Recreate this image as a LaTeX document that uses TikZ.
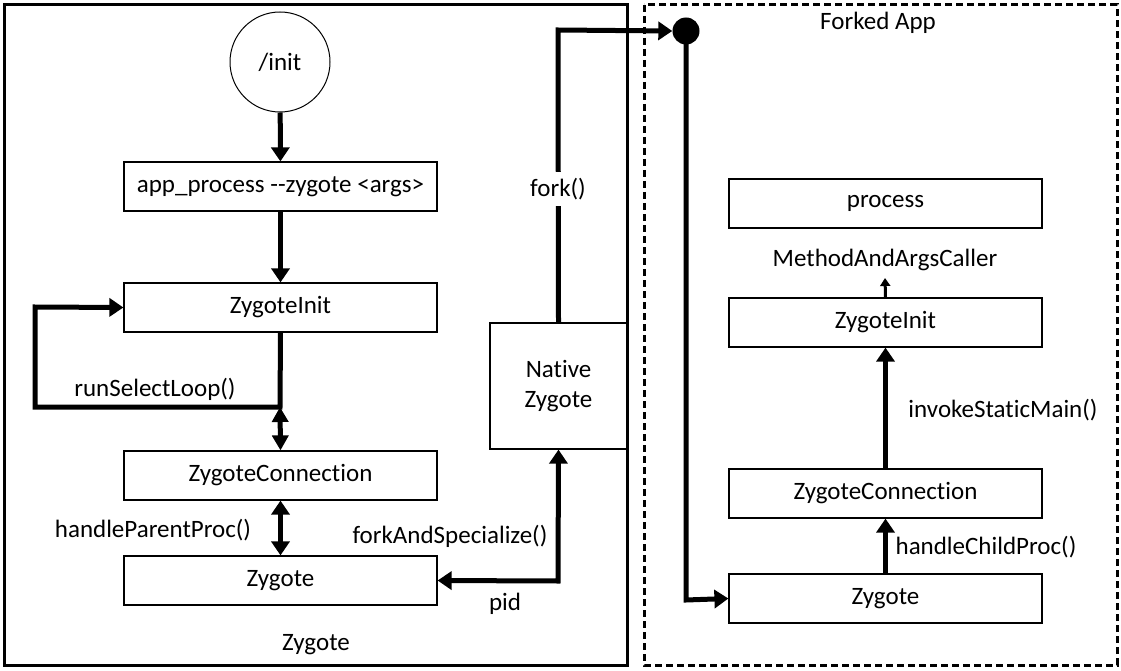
\documentclass[tikz,border=0pt]{standalone}
\usepackage{fontspec}
\setmainfont{Carlito}[Ligatures={NoCommon}]
\usetikzlibrary{arrows.meta,calc}
\begin{document}
\begin{tikzpicture}[x=1pt,y=-1pt,
  font=\fontsize{25}{30}\selectfont,
  box/.style={draw,line width=1.2pt,minimum width=313pt,minimum height=49pt,inner sep=0pt},
  bigarrow/.style={line width=5pt,-{Triangle[length=14pt,width=18pt]}},
  dblarrow/.style={line width=5pt,{Triangle[length=14pt,width=18pt]}-{Triangle[length=14pt,width=18pt]}},
  lbl/.style={inner sep=1pt}]
\useasboundingbox (0,0) rectangle (1121,671);
% containers
\draw[line width=3pt] (4,5) rectangle (627,665);
\draw[line width=3pt,dash pattern=on 7pt off 4pt] (644,5) rectangle (1117,665);
\node[lbl] (forkedlbl) at (878,23) {Forked App};
\node[lbl] (zygotelbl) at (316,645) {Zygote};
% left column
\node[draw,circle,line width=1pt,minimum size=100pt,inner sep=0pt] (init) at (280,62) {/init};
\node[box] (app) at (280.5,186.5) {app\_process {-}{-}zygote <args>};
\node[box] (zi) at (280.5,307.5) {ZygoteInit};
\node[box] (zc) at (280.5,475.5) {ZygoteConnection};
\node[box] (zy) at (280.5,580.5) {Zygote};
\node[draw,line width=1.2pt,minimum width=137pt,minimum height=126pt,inner sep=0pt,align=center] (nz) at (558.5,386) {Native\\Zygote};
% right column
\node[box] (rp) at (885.5,203.5) {process};
\node[box] (rzi) at (885.5,322.5) {ZygoteInit};
\node[box] (rzc) at (885.5,493.5) {ZygoteConnection};
\node[box] (rzy) at (885.5,598.5) {Zygote};
\node[lbl] (mac) at (885,260) {MethodAndArgsCaller};
% arrows left
\draw[bigarrow] (init) -- (app);
\draw[bigarrow] (app) -- (zi);
\coordinate (lp1) at (280,407);
\coordinate (lp2) at (35,407);
\coordinate (lp3) at (35,307);
\draw[line width=5pt,-{Triangle[length=14pt,width=18pt]}] (zi.south) -- (lp1) -- (lp2) -- (lp3) -- (zi.west);
\node[lbl] (rsl) at (155,389) {runSelectLoop()};
\draw[line width=5pt,{Triangle[length=15pt,width=16pt]}-{Triangle[length=15pt,width=16pt]}] (lp1) -- (zc.north);
\draw[dblarrow] (zc) -- (zy);
\node[lbl] (hpp) at (153,530) {handleParentProc()};
\coordinate (fk1) at (558,581);
\draw[line width=5pt,{Triangle[length=14pt,width=18pt]}-{Triangle[length=14pt,width=18pt]}] (zy.east) -- (fk1) -- (nz.south);
\node[lbl] (fas) at (450,536) {forkAndSpecialize()};
\node[lbl] (pid) at (505,604) {pid};
% fork
\node[circle,fill=black,minimum size=27pt,inner sep=0pt] (dot) at (686,31) {};
\coordinate (f1) at (558,30);
\draw[line width=5pt,-{Triangle[length=14pt,width=18pt]}] (nz.north) -- (f1) -- (dot.west);
\node[lbl,fill=white,inner ysep=6pt] (forklbl) at (558,189) {fork()};
\coordinate (d1) at (686,600);
\draw[line width=5pt,-{Triangle[length=14pt,width=18pt]}] (dot.center) -- (d1) -- (rzy.west);
% arrows right
\draw[bigarrow] (rzy) -- (rzc);
\node[lbl] (hcp) at (986,547) {handleChildProc()};
\draw[bigarrow] (rzc) -- (rzi);
\node[lbl] (ism) at (1003,410) {invokeStaticMain()};
\draw[line width=3pt,-{Triangle[length=8pt,width=10pt]}] (rzi.north) -- (885,278);
\end{tikzpicture}
\end{document}
